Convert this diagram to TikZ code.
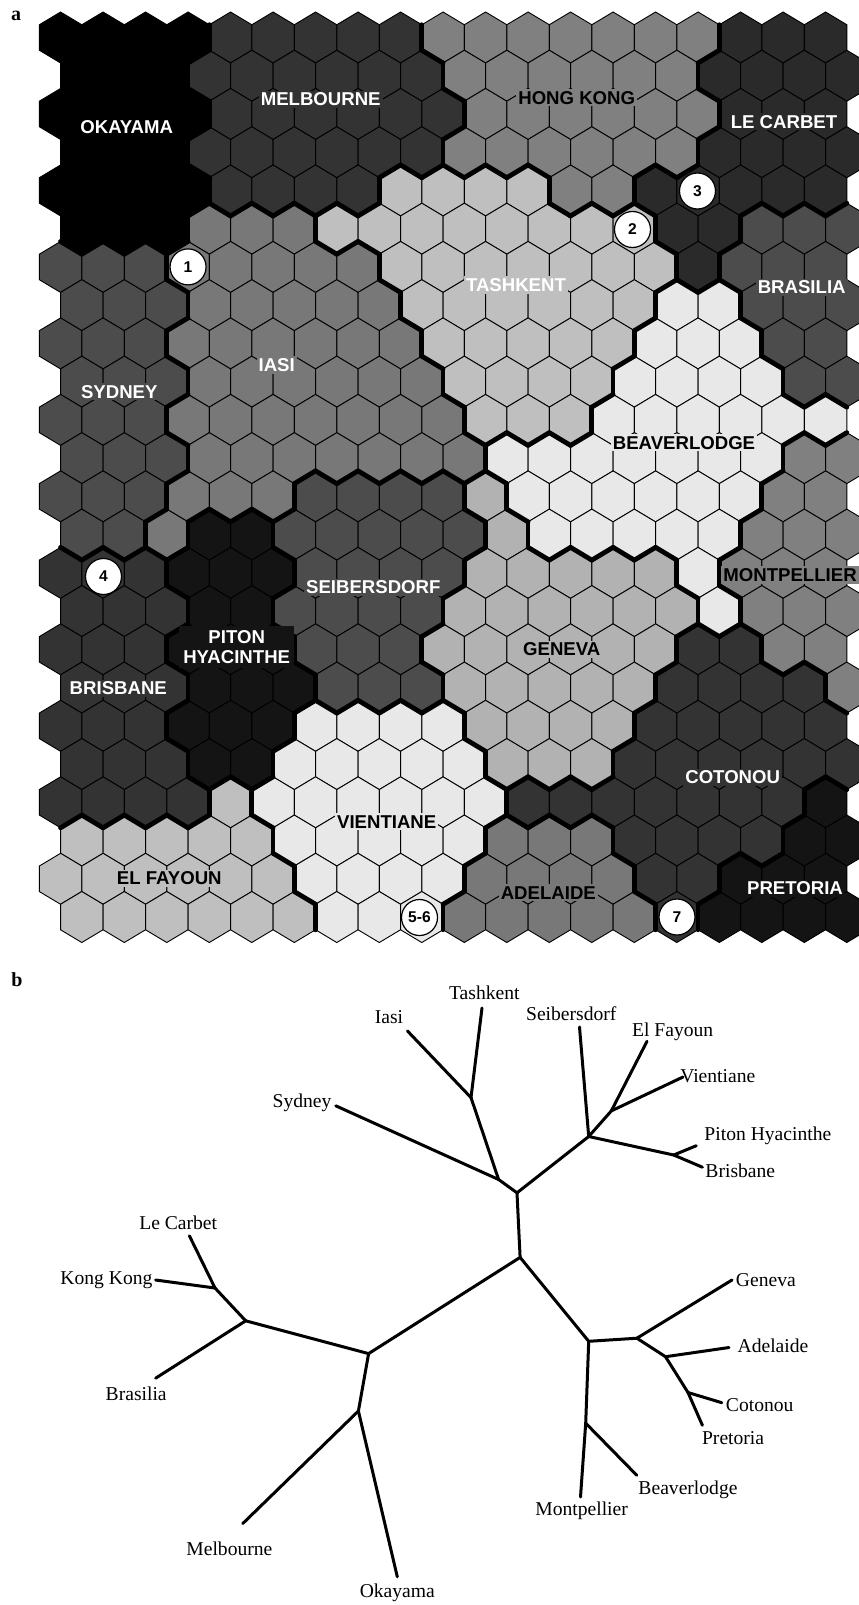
\documentclass[tikz,border=0pt]{standalone}
\usepackage{fontspec}
\setmainfont{Liberation Serif}
\setsansfont{Liberation Sans}
\definecolor{colO}{gray}{0}
\definecolor{colM}{gray}{0.2}
\definecolor{colH}{gray}{0.5}
\definecolor{colL}{gray}{0.165}
\definecolor{colT}{gray}{0.75}
\definecolor{colB}{gray}{0.3}
\definecolor{colI}{gray}{0.47}
\definecolor{colS}{gray}{0.3}
\definecolor{colV}{gray}{0.91}
\definecolor{colP}{gray}{0.5}
\definecolor{colD}{gray}{0.3}
\definecolor{colY}{gray}{0.08}
\definecolor{colR}{gray}{0.2}
\definecolor{colG}{gray}{0.7}
\definecolor{colN}{gray}{0.91}
\definecolor{colE}{gray}{0.75}
\definecolor{colA}{gray}{0.47}
\definecolor{colC}{gray}{0.2}
\definecolor{colQ}{gray}{0.08}
\newcount\colidx
\def\storerow#1#2{\global\colidx=0 \def\currow{#1}\storerowA#2\relax}
\def\storerowA#1{\ifx#1\relax\else\expandafter\xdef\csname cellR\currow C\the\colidx\endcsname{#1}\global\advance\colidx by 1 \expandafter\storerowA\fi}
\storerow{0}{OOOOMMMMMHHHHHHHLLL}
\storerow{1}{OOOMMMMMMHHHHHHLLLL}
\storerow{2}{OOOOMMMMMMHHHHHHLLL}
\storerow{3}{OOOMMMMMMHHHHHHLLLL}
\storerow{4}{OOOOMMMMTTTTHHLLLLL}
\storerow{5}{OOOIIITTTTTTTTLLBBB}
\storerow{6}{SSSIIIIITTTTTTTLBBB}
\storerow{7}{SSSIIIIITTTTTTVVBBB}
\storerow{8}{SSSIIIIIITTTTTVVVBB}
\storerow{9}{SSSIIIIIITTTTVVVVBB}
\storerow{10}{SSSIIIIIIITTTVVVVVV}
\storerow{11}{SSSIIIIIIIVVVVVVVPP}
\storerow{12}{SSSIIIDDDDGVVVVVVPP}
\storerow{13}{SSIYYDDDDDGVVVVVPPP}
\storerow{14}{RRRYYYDDDDGGGGGVPPP}
\storerow{15}{RRRYYDDDDGGGGGGVPPP}
\storerow{16}{RRRYYYDDDGGGGGGCCPP}
\storerow{17}{RRRYYYDDDGGGGGCCCCP}
\storerow{18}{RRRYYYNNNNGGGGCCCCC}
\storerow{19}{RRRYYNNNNNGGGCCCCCC}
\storerow{20}{RRRRENNNNNNCCCCCCCQ}
\storerow{21}{EEEEENNNNNAAACCCCQQ}
\storerow{22}{EEEEEENNNNAAAACCQQQ}
\storerow{23}{EEEEEENNNAAAAACQQQQ}
\tikzset{
  hexline/.style={draw=black,line width=0.45pt},
  bord/.style={draw=black,line width=2.4pt,line cap=round},
  maplab/.style={font=\sffamily\bfseries\fontsize{9.3}{10.3}\selectfont,inner sep=1pt,align=center},
  circ/.style={circle,draw=black,fill=white,line width=0.6pt,minimum size=18pt,inner sep=0pt,font=\sffamily\bfseries\fontsize{7.8}{8}\selectfont},
  treeline/.style={line width=1.5pt,line cap=round,line join=round},
  treelab/.style={font=\fontsize{9.8}{11}\selectfont,inner sep=1pt},
  panel/.style={font=\bfseries\fontsize{10}{12}\selectfont,inner sep=0pt}
}
\begin{document}
\begin{tikzpicture}[x=0.5pt,y=-0.5pt]
\useasboundingbox (0,0) rectangle (858,1605);
\fill[white] (0,0) rectangle (858,1605);
% cells
\foreach \rI in {0,...,23}{
  \foreach \cI in {0,...,18}{
    \pgfmathsetmacro\cx{60.55+42.5*\cI+21.25*mod(\rI,2)}
    \pgfmathsetmacro\cy{37.5+38.24*\rI}
    \edef\code{\csname cellR\rI C\cI\endcsname}
    \filldraw[hexline,fill=col\code] (\cx,\cy-25.49) -- ++(21.25,12.745) -- ++(0,25.49) -- ++(-21.25,12.745) -- ++(-21.25,-12.745) -- ++(0,-25.49) -- cycle;
  }
}
% cluster borders
\foreach \rI in {0,...,23}{
  \foreach \cI in {0,...,18}{
    \pgfmathsetmacro\cx{60.55+42.5*\cI+21.25*mod(\rI,2)}
    \pgfmathsetmacro\cy{37.5+38.24*\rI}
    \edef\codeA{\csname cellR\rI C\cI\endcsname}
    \ifnum\cI<18
      \pgfmathtruncatemacro\nc{\cI+1}
      \edef\codeB{\csname cellR\rI C\nc\endcsname}
      \ifx\codeA\codeB\else
        \draw[bord] (\cx+21.25,\cy-12.745) -- (\cx+21.25,\cy+12.745);
      \fi
    \fi
    \ifnum\rI<23
      \pgfmathtruncatemacro\nr{\rI+1}
      \pgfmathtruncatemacro\ncl{\cI-1+mod(\rI,2)}
      \pgfmathtruncatemacro\ncr{\cI+mod(\rI,2)}
      \ifnum\ncl>-1
        \edef\codeB{\csname cellR\nr C\ncl\endcsname}
        \ifx\codeA\codeB\else
          \draw[bord] (\cx-21.25,\cy+12.745) -- (\cx,\cy+25.49);
        \fi
      \fi
      \ifnum\ncr<19
        \edef\codeB{\csname cellR\nr C\ncr\endcsname}
        \ifx\codeA\codeB\else
          \draw[bord] (\cx,\cy+25.49) -- (\cx+21.25,\cy+12.745);
        \fi
      \fi
    \fi
  }
}
% region labels
\node[maplab,fill=colO,text=white] (lOka) at (126.7,127.3) {OKAYAMA};
\node[maplab,fill=colM,text=white] (lMel) at (320.7,99.3) {MELBOURNE};
\node[maplab,fill=colH,text=black] (lHon) at (576.7,97.7) {HONG KONG};
\node[maplab,fill=colL,text=white] (lLeC) at (784,121.7) {LE CARBET};
\node[maplab,fill=colT,text=white] (lTas) at (516,285) {TASHKENT};
\node[maplab,fill=colB,text=white] (lBra) at (801.7,287.3) {BRASILIA};
\node[maplab,fill=colI,text=white] (lIas) at (276.7,365) {IASI};
\node[maplab,fill=colS,text=white] (lSyd) at (119.3,391.7) {SYDNEY};
\node[maplab,fill=colV,text=black] (lBea) at (684,442.7) {BEAVERLODGE};
\node[maplab,fill=colP,text=black,anchor=west] (lMon) at (721,575) {MONTPELLIER};
\node[maplab,fill=colD,text=white] (lSei) at (373.3,587.3) {SEIBERSDORF};
\node[maplab,fill=colY,text=white,inner sep=2pt] (lPit) at (236.7,647) {PITON\\HYACINTHE};
\node[maplab,fill=colR,text=white] (lBri) at (118.3,688.3) {BRISBANE};
\node[maplab,fill=colG,text=black] (lGen) at (561.7,649.3) {GENEVA};
\node[maplab,fill=colC,text=white] (lCot) at (732.7,777.3) {COTONOU};
\node[maplab,fill=colN,text=black] (lVie) at (386.7,821.7) {VIENTIANE};
\node[maplab,fill=colE,text=black] (lElF) at (169.3,878.3) {EL FAYOUN};
\node[maplab,fill=colA,text=black] (lAde) at (548.3,892.7) {ADELAIDE};
\node[maplab,fill=colQ,text=white] (lPre) at (795,888.3) {PRETORIA};
% numbered circles
\node[circ] (k1) at (188.05,266.9) {1};
\node[circ] (k2) at (632.5,229.5) {2};
\node[circ] (k3) at (697.5,191) {3};
\node[circ] (k4) at (103.5,576.5) {4};
\node[circ] (k56) at (419.5,917.5) {5-6};
\node[circ] (k7) at (677,917) {7};
% panel labels
\node[panel] (pa) at (16,16) {a};
\node[panel] (pb) at (17,980) {b};
% tree
\coordinate (t1) at (471,1097.6);
\coordinate (t2) at (498.6,1179.5);
\coordinate (t3) at (517,1192.8);
\coordinate (t4) at (520.1,1257.4);
\coordinate (t5) at (588.7,1136.5);
\coordinate (t6) at (611.3,1110.9);
\coordinate (t7) at (673.7,1155);
\coordinate (t8) at (368.6,1353.6);
\coordinate (t9) at (245.7,1320.8);
\coordinate (t10) at (215,1288);
\coordinate (t11) at (358.4,1411);
\coordinate (t12) at (588.7,1341.3);
\coordinate (t13) at (636.9,1338.2);
\coordinate (t14) at (665.5,1356.7);
\coordinate (t15) at (688,1392.5);
\coordinate (t16) at (585.7,1423.2);
\coordinate (eTas) at (482,1008);
\coordinate (eIas) at (407.5,1031);
\coordinate (eSyd) at (335.8,1105.8);
\coordinate (eSei) at (579.5,1027);
\coordinate (eElF) at (647,1041.3);
\coordinate (eVie) at (683,1077);
\coordinate (ePit) at (696.3,1145.7);
\coordinate (eBri) at (702.4,1167.2);
\coordinate (eLeC) at (189.4,1235.8);
\coordinate (eKon) at (155.6,1280);
\coordinate (eBra) at (155.6,1378.2);
\coordinate (eMel) at (242.7,1523.6);
\coordinate (eOka) at (397.3,1576.8);
\coordinate (eGen) at (732,1280);
\coordinate (eAde) at (729,1347.5);
\coordinate (eCot) at (721.8,1402.7);
\coordinate (ePre) at (702.4,1425.3);
\coordinate (eMon) at (580.5,1497);
\coordinate (eBea) at (636.9,1475.4);
\draw[treeline] (t1) -- (eTas);
\draw[treeline] (t1) -- (eIas);
\draw[treeline] (t1) -- (t2);
\draw[treeline] (eSyd) -- (t2);
\draw[treeline] (t2) -- (t3);
\draw[treeline] (t3) -- (t5);
\draw[treeline] (t3) -- (t4);
\draw[treeline] (t5) -- (eSei);
\draw[treeline] (t5) -- (t6);
\draw[treeline] (t6) -- (eElF);
\draw[treeline] (t6) -- (eVie);
\draw[treeline] (t5) -- (t7);
\draw[treeline] (t7) -- (ePit);
\draw[treeline] (t7) -- (eBri);
\draw[treeline] (t4) -- (t8);
\draw[treeline] (t4) -- (t12);
\draw[treeline] (t8) -- (t9);
\draw[treeline] (t8) -- (t11);
\draw[treeline] (t9) -- (t10);
\draw[treeline] (t10) -- (eLeC);
\draw[treeline] (t10) -- (eKon);
\draw[treeline] (t9) -- (eBra);
\draw[treeline] (t11) -- (eMel);
\draw[treeline] (t11) -- (eOka);
\draw[treeline] (t12) -- (t13);
\draw[treeline] (t12) -- (t16);
\draw[treeline] (t13) -- (eGen);
\draw[treeline] (t13) -- (t14);
\draw[treeline] (t14) -- (eAde);
\draw[treeline] (t14) -- (t15);
\draw[treeline] (t15) -- (eCot);
\draw[treeline] (t15) -- (ePre);
\draw[treeline] (t16) -- (eMon);
\draw[treeline] (t16) -- (eBea);
% tree labels
\node[treelab] (nTas) at (484.3,993.2) {Tashkent};
\node[treelab] (nIas) at (389,1016.7) {Iasi};
\node[treelab] (nSyd) at (302,1102.7) {Sydney};
\node[treelab] (nSei) at (571.3,1013.7) {Seibersdorf};
\node[treelab] (nElF) at (672.7,1032) {El Fayoun};
\node[treelab] (nVie) at (717.8,1076.3) {Vientiane};
\node[treelab] (nPit) at (767.9,1135.5) {Piton Hyacinthe};
\node[treelab] (nBri) at (740.3,1170.3) {Brisbane};
\node[treelab] (nLeC) at (178.2,1222.5) {Le Carbet};
\node[treelab] (nKon) at (106.5,1279.9) {Kong Kong};
\node[treelab] (nBra) at (136.2,1393.5) {Brasilia};
\node[treelab] (nGen) at (765.9,1279.9) {Geneva};
\node[treelab] (nAde) at (773,1345.4) {Adelaide};
\node[treelab] (nCot) at (759.7,1404.8) {Cotonou};
\node[treelab] (nPre) at (733.1,1437.6) {Pretoria};
\node[treelab] (nBea) at (688,1489.8) {Beaverlodge};
\node[treelab] (nMon) at (581.6,1510.3) {Montpellier};
\node[treelab] (nMel) at (229.4,1549.2) {Melbourne};
\node[treelab] (nOka) at (397.3,1593.2) {Okayama};
\end{tikzpicture}
\end{document}
